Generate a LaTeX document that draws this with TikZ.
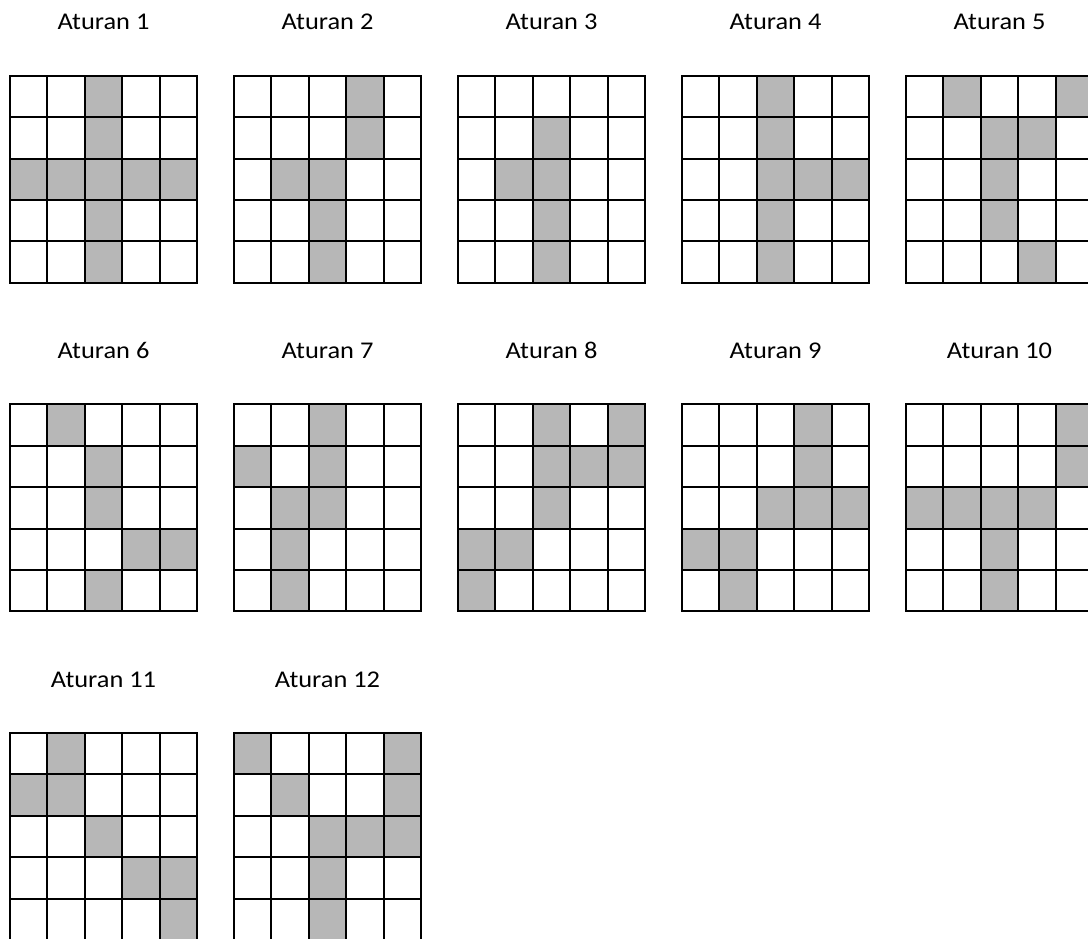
\documentclass[tikz,border=0pt]{standalone}
\usepackage{fontspec}
\setmainfont{Carlito}[FakeStretch=1.1]
\definecolor{cellgray}{RGB}{183,183,183}
\newcommand{\rulegrid}[5]{%
  \begin{scope}[shift={(#1,#2)}]
    \foreach \ro/\co in {#3} {\fill[cellgray] (\co*37.4,\ro*41.4) rectangle ++(37.4,41.4);}
    \foreach \i in {0,...,5} {
      \draw[gridline] (\i*37.4,0) -- (\i*37.4,207);
      \draw[gridline] (0,\i*41.4) -- (187,\i*41.4);
    }
    \node[rulelabel] (#5) at (93.5,-46) {#4};
  \end{scope}}
\begin{document}
\begin{tikzpicture}[x=1pt,y=-1pt,
  gridline/.style={line width=2pt,black,line cap=rect},
  rulelabel/.style={font=\fontsize{24}{28}\selectfont,inner sep=0pt,anchor=base,text=black}]
\useasboundingbox (0,0) rectangle (1088,938);
\clip (0,0) rectangle (1088,938);
\rulegrid{10}{75.7}{0/2,1/2,2/0,2/1,2/2,2/3,2/4,3/2,4/2}{Aturan 1}{lab1}
\rulegrid{234}{75.7}{0/3,1/3,2/1,2/2,3/2,4/2}{Aturan 2}{lab2}
\rulegrid{458}{75.7}{1/2,2/1,2/2,3/2,4/2}{Aturan 3}{lab3}
\rulegrid{682}{75.7}{0/2,1/2,2/2,2/3,2/4,3/2,4/2}{Aturan 4}{lab4}
\rulegrid{906}{75.7}{0/1,0/4,1/2,1/3,2/2,3/2,4/3}{Aturan 5}{lab5}
\rulegrid{10}{404.3}{0/1,1/2,2/2,3/3,3/4,4/2}{Aturan 6}{lab6}
\rulegrid{234}{404.3}{0/2,1/0,1/2,2/1,2/2,3/1,4/1}{Aturan 7}{lab7}
\rulegrid{458}{404.3}{0/2,0/4,1/2,1/3,1/4,2/2,3/0,3/1,4/0}{Aturan 8}{lab8}
\rulegrid{682}{404.3}{0/3,1/3,2/2,2/3,2/4,3/0,3/1,4/1}{Aturan 9}{lab9}
\rulegrid{906}{404.3}{0/4,1/4,2/0,2/1,2/2,2/3,3/2,4/2}{Aturan 10}{lab10}
\rulegrid{10}{733}{0/1,1/0,1/1,2/2,3/3,3/4,4/4}{Aturan 11}{lab11}
\rulegrid{234}{733}{0/0,0/4,1/1,1/4,2/2,2/3,2/4,3/2,4/2}{Aturan 12}{lab12}
\end{tikzpicture}
\end{document}
